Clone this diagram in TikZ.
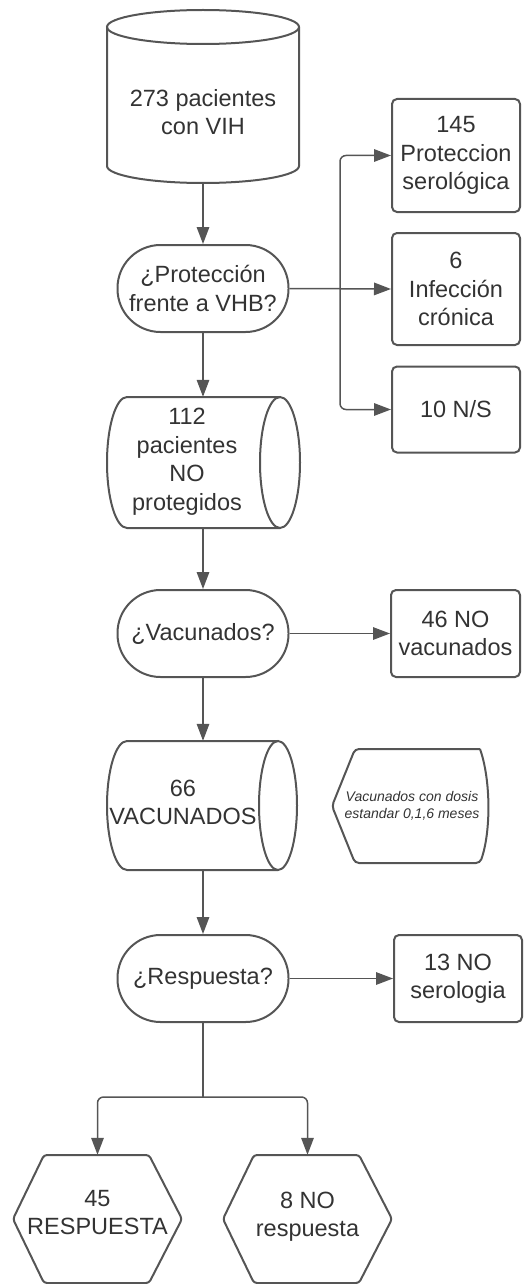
\documentclass[tikz,border=0pt]{standalone}
\usepackage{fontspec}
\setmainfont{Liberation Sans}
\usetikzlibrary{arrows.meta}
\definecolor{ln}{HTML}{555555}
\definecolor{tx}{HTML}{333333}
\begin{document}
\begin{tikzpicture}[x=1pt,y=-1pt,
  shp/.style={draw=ln,line width=2pt},
  txt/.style={text=tx,font=\fontsize{23.5}{28.5}\selectfont,align=center,inner sep=0pt},
  pill/.style={shp,txt,minimum width=171pt,minimum height=87pt,rounded corners=43pt},
  rbox/.style={shp,txt,minimum width=128pt,rounded corners=5pt},
  geo/.style={draw=none,inner sep=0pt},
  conn/.style={draw=ln,line width=1.5pt},
  arr/.style={conn,-{Triangle[length=17pt,width=12.5pt]}},
]
\useasboundingbox (0,0) rectangle (529,1284);

% cylinder 1 (vertical)
\node[geo,minimum width=192pt,minimum height=173pt] (cyl1) at (203,96.5) {};
\draw[shp] (107,27) -- (107,166) arc[start angle=180,end angle=0,x radius=96,y radius=17] -- (299,27);
\draw[shp] (203,27) ellipse [x radius=96, y radius=17];
\node[txt] (t1) at (203,112) {273 pacientes\\con VIH};

% decision 1
\node[pill] (pill1) at (203,288.5) {¿Protección\\frente a VHB?};

% right boxes
\node[rbox,minimum height=113pt] (box1) at (456,155.5) {145\\Proteccion\\serológica};
\node[rbox,minimum height=112pt] (box2) at (456,289) {6\\Infección\\crónica};
\node[rbox,minimum height=86pt] (box3) at (456,409.5) {10 N/S};

% cylinder 2 (horizontal)
\node[geo,minimum width=193pt,minimum height=131pt] (cyl2) at (203,462.5) {};
\draw[shp] (280,397) -- (127,397) arc[start angle=270,end angle=90,x radius=20,y radius=65.5] -- (280,528);
\draw[shp] (280,462.5) ellipse [x radius=20, y radius=65.5];
\node[txt] (t2) at (187,461.5) {112\\pacientes\\NO\\protegidos};

% decision 2
\node[pill] (pill2) at (203,633.5) {¿Vacunados?};
\node[rbox,minimum width=129pt,minimum height=87pt] (box4) at (455.5,633.5) {46 NO\\vacunados};

% cylinder 3 (horizontal)
\node[geo,minimum width=191pt,minimum height=129pt] (cyl3) at (203,805.5) {};
\draw[shp] (278,741) -- (127,741) arc[start angle=270,end angle=90,x radius=20,y radius=64.5] -- (278,870);
\draw[shp] (278,805.5) ellipse [x radius=19, y radius=64.5];
\node[txt] (t3) at (183,802.5) {66\\VACUNADOS};

% note (display shape)
\draw[shp] (480,749) [rounded corners=4pt] -- (355,749) -- (332,806) -- (355,863) -- (480,863) [sharp corners] .. controls (491,832) and (491,780) .. (480,749);
\node[txt,font=\fontsize{14}{17}\selectfont\itshape] (note) at (412,806) {Vacunados con dosis\\estandar 0,1,6 meses};

% decision 3
\node[pill] (pill3) at (203,978.5) {¿Respuesta?};
\node[rbox,minimum height=87pt] (box5) at (458,978.5) {13 NO\\serologia};

% hexagons
\node[geo,minimum width=169pt,minimum height=128pt] (hex1) at (97.5,1219) {};
\draw[shp,rounded corners=3pt] (13,1219) -- (44,1155) -- (149,1155) -- (182,1219) -- (149,1283) -- (44,1283) -- cycle;
\node[txt] (t4) at (97.5,1212.5) {45\\RESPUESTA};
\node[geo,minimum width=169pt,minimum height=128pt] (hex2) at (307.5,1219) {};
\draw[shp,rounded corners=3pt] (223,1219) -- (254,1155) -- (359,1155) -- (392,1219) -- (359,1283) -- (254,1283) -- cycle;
\node[txt] (t5) at (307.5,1216.5) {8 NO\\respuesta};

% connectors
\draw[arr] (cyl1.south) -- (pill1.north);
\draw[arr] (pill1.east) -- (box2.west);
\coordinate (br) at (340,288.5);
\draw[arr,rounded corners=6pt] (br) |- (box1.west);
\draw[arr,rounded corners=6pt] (br) |- (box3.west);
\draw[arr] (pill1.south) -- (cyl2.north);
\draw[arr] (cyl2.south) -- (pill2.north);
\draw[arr] (pill2.east) -- (box4.west);
\draw[arr] (pill2.south) -- (cyl3.north);
\draw[arr] (cyl3.south) -- (pill3.north);
\draw[arr] (pill3.east) -- (box5.west);
\coordinate (sp) at (203,1097);
\draw[conn] (pill3.south) -- (sp);
\draw[arr,rounded corners=6pt] (sp) -| (hex1.north);
\draw[arr,rounded corners=6pt] (sp) -| (hex2.north);
\end{tikzpicture}
\end{document}
